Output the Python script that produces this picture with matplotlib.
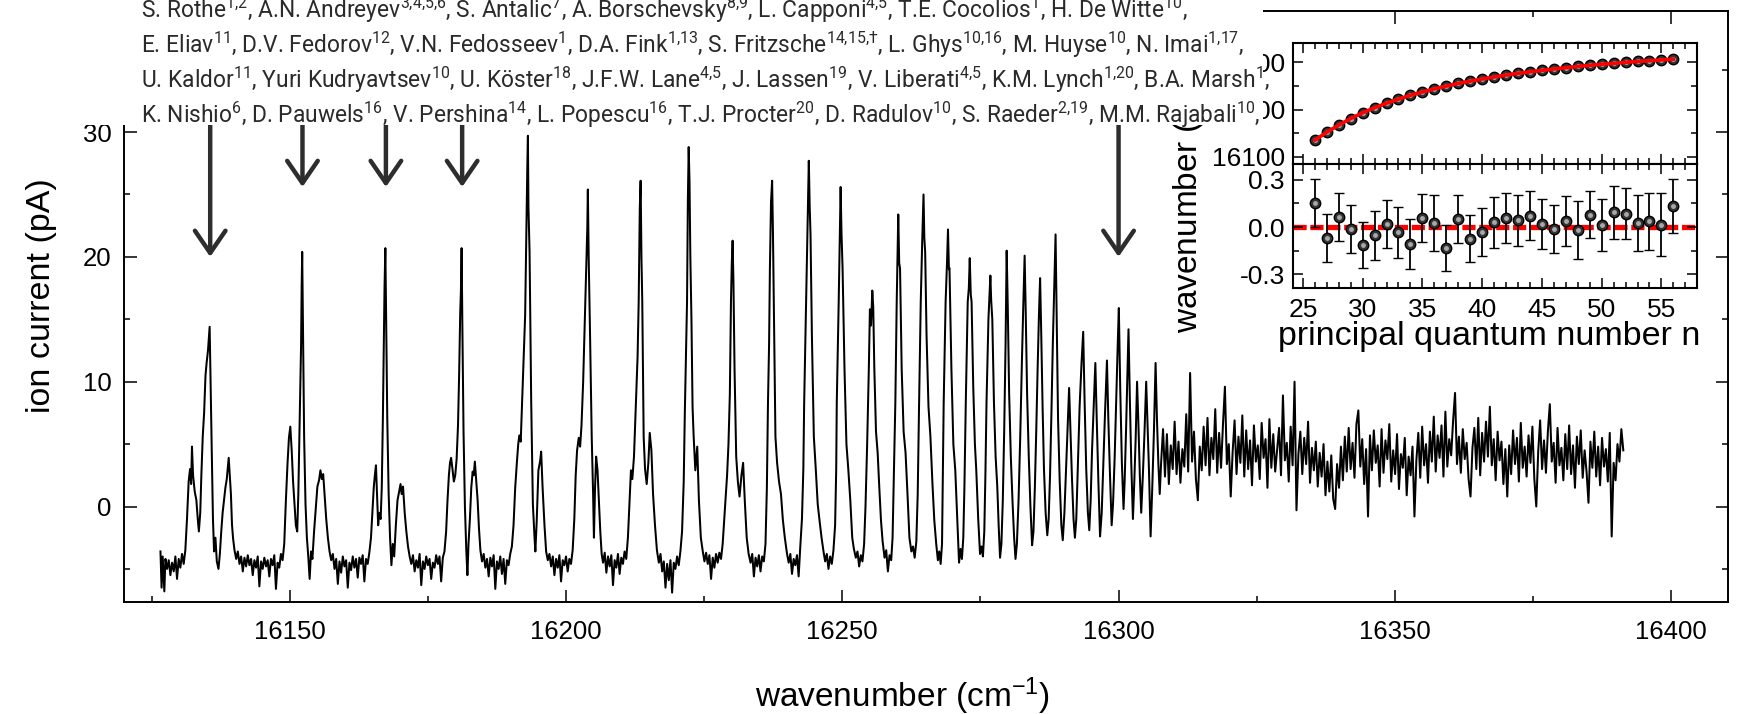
import numpy as np
import matplotlib
matplotlib.use('Agg')
import matplotlib.pyplot as plt
from matplotlib.ticker import MultipleLocator, FormatStrFormatter

plt.rcParams['font.family'] = ['Liberation Sans', 'DejaVu Sans']
plt.rcParams['mathtext.default'] = 'regular'
plt.rcParams['axes.unicode_minus'] = False

# ---- main spectrum: (wavenumber, ion current) ----
scan_points = [
    (16126.6, -3.6), (16126.8, -6.5), (16127.0, -4.0), (16127.3, -6.8), (16127.5, -4.2), (16127.8, -5.0),
    (16128.1, -4.3), (16128.4, -5.5), (16128.7, -4.5), (16129.0, -5.2), (16129.3, -4.0), (16129.6, -5.8),
    (16129.9, -4.2), (16130.2, -4.9), (16130.5, -3.8), (16130.8, -4.6), (16131.1, -3.5),
    # n = 26
    (16131.4, -1.0), (16131.7, 2.0), (16131.95, 3.0), (16132.15, 1.8), (16132.3, 4.8), (16132.5, 2.5),
    (16132.8, 1.2), (16133.1, 0.5), (16133.35, -1.0), (16133.55, -2.0), (16133.8, -0.5), (16134.0, 2.5),
    (16134.25, 5.6), (16134.5, 7.5), (16134.75, 10.5), (16134.95, 11.5), (16135.2, 12.5), (16135.5, 14.4),
    (16135.7, 9.0), (16135.9, 4.0), (16136.1, -1.0), (16136.3, -3.6), (16136.55, -2.5), (16136.8, -4.4),
    (16137.1, -5.0), (16137.35, -3.8), (16137.6, -2.0), (16137.85, -0.5), (16138.1, 0.5), (16138.35, 1.5),
    (16138.6, 2.2), (16138.8, 3.2), (16138.95, 3.9), (16139.15, 2.4), (16139.35, 1.0), (16139.55, -1.5),
    (16139.75, -2.6), (16140.0, -3.5), (16140.3, -4.2),
    (16140.6, -3.6), (16140.9, -4.6), (16141.2, -4.0), (16141.5, -5.2), (16141.8, -4.1), (16142.1, -4.8),
    (16142.4, -3.9), (16142.7, -4.7), (16143.0, -4.2), (16143.3, -5.5), (16143.6, -4.3), (16143.9, -4.9),
    (16144.2, -4.0), (16144.5, -6.4), (16144.8, -4.4), (16145.1, -5.0), (16145.4, -4.1), (16145.7, -4.8),
    (16146.0, -4.3), (16146.3, -5.6), (16146.6, -4.2), (16146.9, -4.7), (16147.2, -3.9), (16147.5, -6.6),
    (16147.8, -4.5), (16148.1, -4.9), (16148.4, -3.8), (16148.7, -4.3),
    # n = 27
    (16149.0, -3.0), (16149.3, 0.5), (16149.6, 3.5), (16149.85, 5.5), (16150.1, 6.4), (16150.35, 4.5),
    (16150.6, 2.0), (16150.85, 0.2), (16151.1, -1.5), (16151.35, -2.0), (16151.55, 1.0), (16151.75, 6.0),
    (16151.9, 9.5), (16152.05, 13.0), (16152.15, 17.5), (16152.25, 20.4), (16152.4, 14.0), (16152.6, 5.6),
    (16152.85, 0.2), (16153.1, -2.5), (16153.35, -4.0), (16153.6, -5.8), (16153.85, -3.6), (16154.1, -4.2),
    (16154.4, -2.0), (16154.7, -0.2), (16155.0, 1.6), (16155.3, 2.1), (16155.55, 2.9), (16155.8, 2.2),
    (16156.05, 2.6), (16156.3, 1.0), (16156.6, -1.0), (16156.9, -2.5), (16157.2, -3.6), (16157.5, -4.3),
    (16157.8, -3.8), (16158.1, -5.0), (16158.4, -4.2), (16158.7, -6.2), (16159.0, -4.4), (16159.3, -5.3),
    (16159.6, -4.0), (16159.9, -4.8), (16160.2, -4.3), (16160.5, -6.5), (16160.8, -4.5), (16161.1, -5.1),
    (16161.4, -4.0), (16161.7, -4.9), (16162.0, -4.2), (16162.3, -5.7), (16162.6, -4.1), (16162.9, -4.6),
    (16163.2, -3.9), (16163.5, -6.0), (16163.8, -4.2), (16164.1, -4.6), (16164.4, -3.7),
    # n = 28
    (16164.7, -2.5), (16164.95, -0.5), (16165.2, 1.5), (16165.4, 2.5), (16165.6, 3.3), (16165.8, 1.0),
    (16166.0, -1.5), (16166.2, -0.5), (16166.45, -1.0), (16166.65, 1.5), (16166.85, 7.0), (16167.0, 12.5),
    (16167.15, 17.5), (16167.3, 20.7), (16167.45, 15.0), (16167.65, 7.0), (16167.9, 1.0), (16168.15, -2.5),
    (16168.4, -4.7), (16168.65, -3.0), (16168.9, -4.0), (16169.2, -1.5), (16169.5, 0.5), (16169.8, 1.2),
    (16170.05, 1.8), (16170.25, 1.0), (16170.5, 1.6), (16170.8, -0.5), (16171.1, -2.0), (16171.4, -3.2),
    (16171.7, -4.0), (16172.0, -4.6),
    (16172.3, -3.9), (16172.6, -5.2), (16172.9, -4.3), (16173.2, -4.9), (16173.5, -3.8), (16173.8, -6.3),
    (16174.1, -4.4), (16174.4, -5.0), (16174.7, -4.0), (16175.0, -4.7), (16175.3, -4.2), (16175.6, -5.8),
    (16175.9, -4.5), (16176.2, -4.9), (16176.5, -3.9), (16176.8, -4.6), (16177.1, -4.0), (16177.4, -6.0),
    (16177.7, -4.1), (16178.0, -3.6),
    # n = 29
    (16178.3, -2.0), (16178.55, 0.5), (16178.8, 2.5), (16179.0, 3.5), (16179.2, 3.9), (16179.45, 3.0),
    (16179.7, 2.0), (16179.95, 2.5), (16180.2, 3.8), (16180.45, 6.5), (16180.65, 10.5), (16180.85, 15.5),
    (16180.97, 17.2), (16181.1, 20.7), (16181.25, 14.0), (16181.45, 6.0), (16181.7, 0.0), (16181.95, -3.5),
    (16182.15, -5.5), (16182.35, -3.0), (16182.6, -1.0), (16182.85, 1.5), (16183.1, 2.8), (16183.3, 2.5),
    (16183.5, 3.6), (16183.75, 2.0), (16184.0, 0.5), (16184.25, -1.8), (16184.5, -3.5), (16184.8, -4.4),
    (16185.1, -3.8), (16185.4, -4.9), (16185.7, -4.2), (16186.0, -5.6), (16186.3, -4.1), (16186.6, -4.8),
    (16186.9, -3.9), (16187.2, -6.6), (16187.5, -4.4), (16187.8, -5.0), (16188.1, -4.0), (16188.4, -5.4),
    (16188.7, -4.2), (16189.0, -6.2), (16189.3, -4.3), (16189.6, -4.7), (16189.9, -3.8), (16190.2, -3.2),
    # n = 30
    (16190.5, -1.5), (16190.8, 1.5), (16191.1, 3.5), (16191.35, 5.0), (16191.55, 5.7), (16191.8, 5.2),
    (16192.05, 8.3), (16192.35, 12.0), (16192.6, 15.3), (16192.85, 22.9), (16193.0, 27.4), (16193.1, 29.7),
    (16193.2, 24.0), (16193.4, 20.4), (16193.7, 8.3), (16194.0, 0.2), (16194.3, -2.5), (16194.45, -3.6),
    (16194.7, -1.1), (16195.0, 2.9), (16195.3, 3.6), (16195.5, 4.4), (16195.75, 1.6), (16196.1, -1.5),
    (16196.4, -3.6), (16196.7, -4.3),
    (16197.0, -3.8), (16197.3, -4.8), (16197.6, -4.0), (16197.9, -5.5), (16198.2, -4.2), (16198.5, -4.9),
    (16198.8, -3.9), (16199.1, -6.0), (16199.4, -4.3), (16199.7, -4.7), (16200.0, -4.0), (16200.3, -5.2),
    (16200.6, -4.2), (16200.9, -4.6), (16201.2, -3.5),
    # n = 31
    (16201.5, -1.0), (16201.75, 2.5), (16202.0, 4.5), (16202.3, 5.5), (16202.55, 4.8), (16202.8, 6.5),
    (16203.1, 10.0), (16203.4, 15.0), (16203.65, 19.0), (16203.85, 22.3), (16203.95, 25.4), (16204.1, 20.0),
    (16204.35, 13.7), (16204.65, 5.6), (16204.9, 1.0), (16205.05, -2.5), (16205.25, 1.5), (16205.45, 4.0),
    (16205.7, 2.9), (16205.95, 0.5), (16206.2, -2.0), (16206.45, -3.8), (16206.7, -4.5),
    (16207.0, -3.7), (16207.3, -5.3), (16207.6, -4.0), (16207.9, -4.8), (16208.2, -3.9), (16208.5, -6.3),
    (16208.8, -4.3), (16209.1, -4.9), (16209.4, -3.8), (16209.7, -5.4), (16210.0, -4.1), (16210.3, -4.6),
    (16210.6, -3.6), (16210.9, -4.2),
    # n = 32
    (16211.2, -2.5), (16211.5, 0.5), (16211.75, 2.9), (16212.0, 2.2), (16212.3, 4.0), (16212.65, 8.3),
    (16212.95, 12.0), (16213.15, 16.4), (16213.35, 23.9), (16213.5, 26.1), (16213.65, 20.0), (16213.8, 16.4),
    (16214.05, 5.6), (16214.3, 3.0), (16214.6, 1.8), (16214.9, 3.5), (16215.15, 5.9), (16215.45, 4.5),
    (16215.75, 1.0), (16216.1, -1.5), (16216.45, -3.5), (16216.8, -4.5),
    (16217.1, -3.8), (16217.4, -5.2), (16217.7, -4.4), (16218.0, -6.5), (16218.3, -4.6), (16218.6, -5.9),
    (16218.9, -4.3), (16219.2, -6.9), (16219.5, -4.5), (16219.8, -5.0), (16220.1, -4.0), (16220.4, -4.7),
    (16220.7, -3.6),
    # n = 33
    (16221.0, -2.0), (16221.3, 2.0), (16221.5, 7.5), (16221.7, 12.0), (16221.9, 16.4), (16222.05, 24.5),
    (16222.2, 28.8), (16222.35, 26.0), (16222.5, 20.0), (16222.7, 15.0), (16222.9, 8.0), (16223.1, 5.6),
    (16223.4, 2.9), (16223.75, 4.8), (16224.05, 0.5), (16224.4, -2.5), (16224.75, -3.6), (16225.05, -4.4),
    (16225.35, -3.7), (16225.65, -4.6), (16225.95, -3.9), (16226.25, -5.8), (16226.55, -4.1), (16226.85, -4.9),
    (16227.15, -3.8), (16227.45, -4.5), (16227.75, -3.7), (16228.05, -4.2), (16228.35, -3.0),
    # n = 34
    (16228.65, -1.0), (16228.9, 0.8), (16229.15, 2.5), (16229.4, 5.0), (16229.65, 9.0), (16229.85, 16.4),
    (16230.0, 19.5), (16230.15, 21.3), (16230.3, 18.0), (16230.5, 11.0), (16230.8, 4.0), (16231.1, 2.0),
    (16231.4, 0.8), (16231.75, 2.5), (16232.05, 3.5), (16232.35, 0.5), (16232.7, -2.5), (16233.05, -3.8),
    (16233.4, -4.5),
    (16233.7, -3.8), (16234.0, -5.6), (16234.3, -4.1), (16234.6, -4.8), (16234.9, -3.9), (16235.2, -5.2),
    (16235.5, -4.0), (16235.8, -4.4), (16236.1, -3.0),
    # n = 35
    (16236.35, 1.5), (16236.55, 8.3), (16236.75, 13.0), (16236.9, 19.1), (16237.1, 24.4), (16237.3, 26.1),
    (16237.45, 22.0), (16237.6, 16.4), (16237.9, 5.6), (16238.2, 3.5), (16238.55, 2.0), (16238.9, 1.0),
    (16239.25, -1.1), (16239.6, -2.5), (16240.0, -3.8),
    (16240.3, -4.5), (16240.6, -3.8), (16240.9, -5.4), (16241.2, -4.2), (16241.5, -4.7), (16241.8, -3.9),
    (16242.1, -5.6), (16242.4, -3.2),
    # n = 36
    (16242.7, -1.0), (16242.95, 3.0), (16243.1, 8.3), (16243.45, 16.4), (16243.7, 22.0), (16243.8, 24.5),
    (16243.94, 27.7), (16244.1, 24.0), (16244.25, 21.8), (16244.5, 13.7), (16244.85, 5.6), (16245.2, 3.0),
    (16245.55, 0.2), (16245.9, -1.2), (16246.25, -2.5), (16246.6, -3.6),
    (16246.9, -4.4), (16247.2, -3.8), (16247.5, -5.0), (16247.8, -4.0), (16248.1, -4.6), (16248.4, -3.5),
    # n = 37
    (16248.7, -1.5), (16248.9, 3.0), (16249.0, 8.3), (16249.35, 16.4), (16249.55, 21.5), (16249.7, 25.6),
    (16249.85, 22.0), (16250.05, 19.1), (16250.4, 11.0), (16250.75, 5.0), (16251.1, 2.9), (16251.45, 0.5),
    (16251.8, -2.5), (16252.1, -3.4), (16252.45, -4.1),
    (16252.75, -3.6), (16253.05, -4.8), (16253.35, -3.9), (16253.65, -4.4), (16253.95, -3.0),
    # n = 38
    (16254.2, 0.0), (16254.5, 5.0), (16254.8, 11.0), (16255.0, 15.8), (16255.2, 14.5), (16255.43, 17.3),
    (16255.6, 16.0), (16255.8, 11.0), (16256.1, 6.0), (16256.4, 4.3), (16256.7, 1.5), (16257.0, -1.1),
    (16257.3, -2.8), (16257.65, -4.1),
    (16257.95, -3.5), (16258.25, -5.2), (16258.55, -3.9), (16258.85, -4.3), (16259.1, -2.5),
    # n = 39
    (16259.35, 3.0), (16259.6, 8.3), (16259.85, 16.4), (16260.13, 23.4), (16260.3, 19.5), (16260.45, 19.1),
    (16260.75, 11.0), (16261.1, 6.0), (16261.45, 4.3), (16261.8, 1.0), (16262.15, -2.5), (16262.5, -3.6),
    (16262.8, -3.2), (16263.1, -4.1), (16263.4, -2.8),
    # n = 40
    (16263.65, 1.0), (16263.9, 8.3), (16264.2, 16.4), (16264.45, 21.0), (16264.7, 25.0), (16264.85, 21.5),
    (16265.0, 20.4), (16265.25, 13.7), (16265.6, 8.0), (16265.95, 5.6), (16266.3, 2.0), (16266.65, -1.1),
    (16267.0, -3.0), (16267.3, -4.3),
    (16267.55, -3.6), (16267.8, -4.6), (16268.05, -3.0),
    # n = 41
    (16268.35, 8.3), (16268.7, 16.4), (16268.95, 19.5), (16269.13, 22.2), (16269.3, 19.0), (16269.4, 19.1),
    (16269.75, 11.0), (16270.1, 5.0), (16270.45, 2.9), (16270.8, -0.8), (16271.13, -4.5),
    (16271.4, -3.4), (16271.65, -4.2), (16271.9, -2.5),
    # n = 42
    (16272.1, 1.5), (16272.35, 8.3), (16272.7, 16.4), (16272.9, 17.5), (16273.07, 19.9), (16273.25, 17.0),
    (16273.4, 16.4), (16273.7, 9.6), (16274.0, 5.0), (16274.25, 2.9), (16274.6, -1.0), (16274.93, -3.8),
    (16275.2, -3.2), (16275.45, -4.0), (16275.7, -2.0),
    # n = 43 .. 47
    (16275.9, 2.5), (16276.1, 8.3), (16276.45, 15.0), (16276.8, 18.5), (16276.95, 16.5), (16277.15, 15.0),
    (16277.45, 8.3), (16277.75, 4.0), (16278.05, 1.6), (16278.3, -1.5), (16278.55, -4.1),
    (16278.8, -3.0), (16279.05, 0.5), (16279.3, 6.0), (16279.55, 13.0), (16279.75, 20.5), (16279.95, 16.0),
    (16280.2, 9.0), (16280.5, 4.0), (16280.8, 0.5), (16281.1, -2.5), (16281.35, -4.2),
    (16281.6, -3.0), (16281.9, 0.5), (16282.2, 5.5), (16282.5, 11.5), (16282.75, 16.0), (16283.0, 20.1),
    (16283.2, 15.5), (16283.45, 9.0), (16283.75, 4.0), (16284.05, 0.0), (16284.35, -3.1),
    (16284.6, -2.0), (16284.85, 1.5), (16285.1, 6.0), (16285.35, 11.0), (16285.6, 15.5), (16285.8, 18.3),
    (16286.0, 14.0), (16286.25, 8.0), (16286.5, 3.0), (16286.8, -0.5), (16287.1, -2.3),
    (16287.35, -1.0), (16287.6, 2.5), (16287.85, 7.5), (16288.1, 13.0), (16288.35, 17.5), (16288.6, 21.8),
    (16288.8, 15.0), (16289.05, 7.0), (16289.35, 2.0), (16289.65, -1.5),
    # n = 48 .. 56
    (16289.9, -2.7), (16290.2, -0.5), (16290.5, 3.0), (16290.8, 6.5), (16291.05, 9.5), (16291.3, 6.0),
    (16291.55, 2.5), (16291.85, -1.0), (16292.1, -2.5),
    (16292.35, -1.0), (16292.65, 3.5), (16292.95, 8.0), (16293.3, 11.5), (16293.6, 14.0), (16293.85, 8.5),
    (16294.15, 3.0), (16294.45, -0.5), (16294.7, -1.9),
    (16294.95, 0.5), (16295.2, 4.5), (16295.5, 8.0), (16295.8, 11.5), (16296.05, 7.0), (16296.35, 2.0),
    (16296.65, -2.4),
    (16296.95, -0.5), (16297.25, 3.5), (16297.55, 7.5), (16297.9, 11.7), (16298.15, 7.0), (16298.45, 2.5),
    (16298.75, -1.5),
    (16299.0, 0.2), (16299.3, 4.0), (16299.6, 9.0), (16299.85, 13.0), (16300.05, 15.9), (16300.3, 9.5),
    (16300.6, 3.5), (16300.9, -0.2),
    (16301.1, 2.0), (16301.35, 6.0), (16301.6, 10.5), (16301.8, 14.2), (16302.05, 8.5), (16302.3, 3.5),
    (16302.6, -1.0),
    (16302.85, 2.0), (16303.1, 5.5), (16303.35, 10.0), (16303.6, 6.5), (16303.85, 2.5), (16304.1, -0.5),
    (16304.4, 2.5), (16304.7, 6.0), (16305.0, 10.0), (16305.25, 6.5), (16305.5, 3.0), (16305.8, -2.4),
    (16306.1, 1.5), (16306.4, 6.0), (16306.7, 11.5), (16306.95, 7.0), (16307.2, 3.5), (16307.45, 1.0),
]

# noisy continuum above the series limit, sampled every 0.35 cm-1 from 16307.7
band_start = 16307.7
band_step = 0.35
band_y = [
    3.5, 6.2, 2.4, 5.8, 1.8, 4.9, 3.0, 6.8, 2.6, 5.2,
    1.9, 4.6, 3.2, 7.4, 2.8, 10.7, 3.6, 6.0, 2.2, 0.5,
    4.8, 2.9, 6.4, 3.3, 7.1, 2.5, 5.5, 3.8, 7.8, 2.7,
    5.9, 3.1, 6.6, 9.6, 3.4, 5.0, 0.8, 4.4, 6.9, 2.6,
    5.6, 3.5, 7.3, 2.4, 6.1, 3.0, 5.3, 1.7, 6.5, 3.6,
    4.9, 2.2, 6.7, 3.9, 5.4, 1.5, 7.0, 3.1, 5.8, 2.8,
    4.6, 6.3, 2.5, 8.9, 3.7, 5.1, 2.0, 6.4, 3.3, 10.0,
    -0.3, 4.2, 6.0, 2.6, 5.5, 3.4, 6.8, 1.9, 4.7, 2.9,
    5.2, 1.6, 4.3, 2.4, 5.0, 0.9, 3.6, 1.2, 4.1, 0.6,
    -0.2, 3.4, 1.5, 4.8, 2.1, 5.6, 2.8, 6.3, 3.0, 5.1,
    2.3, 6.6, 7.7, 3.2, 5.4, 1.8, 4.6, -0.8, 5.7, 2.9,
    6.1, 3.5, 4.9, 1.6, 6.2, 2.7, 5.3, 3.8, 6.6, 2.0,
    4.5, 2.6, 5.8, 1.4, 4.2, 3.1, 5.5, 0.9, 4.0, 2.5,
    4.8, -0.8, 3.7, 5.9, 2.3, 6.4, 3.3, 5.0, 1.9, 6.0,
    3.6, 7.2, 2.8, 5.7, 3.9, 6.5, 2.4, 7.6, 3.2, 5.4,
    4.1, 6.9, 9.1, 3.4, 5.6, 2.7, 6.2, 3.8, 5.1, 2.2,
    0.8, 4.7, 6.3, 3.0, 7.1, 2.5, 5.9, 3.6, 6.8, 4.0,
    8.0, 3.3, 5.4, 2.1, 6.0, 3.7, 5.2, 1.8, 4.6, 0.8,
    4.9, 2.6, 6.1, 3.4, 5.5, 2.0, 6.7, 3.1, 4.8, 2.4,
    5.7, 3.5, 6.4, 2.2, 0.0, 4.4, 6.9, 3.0, 5.3, 2.7,
    6.0, 8.2, 3.6, 5.1, 1.9, 6.3, 3.3, 4.7, 2.1, 5.8,
    3.0, 6.5, 2.6, 4.9, 1.5, 5.6, 3.4, 6.1, 2.3, 4.5,
    2.8, 0.3, 5.2, 3.1, 6.0, 2.4, 4.8, 1.7, 5.5, 3.2,
    4.6, 2.0, 5.9, -2.4, 3.5, 2.1, 5.0, 3.6, 6.2, 4.5,
]

# arrows marking selected resonances
arrow_x = [16135.6, 16152.3, 16167.4, 16181.2, 16300.0]
arrow_tip = [20.0, 25.6, 25.6, 25.6, 20.0]

# ---- inset: Rydberg series ----
n_levels = list(range(26, 57))
level_wn = [16135.5, 16152.2, 16167.3, 16181.1, 16193.1, 16203.9, 16213.5, 16222.2, 16230.2, 16237.3,
            16243.9, 16249.7, 16255.4, 16260.1, 16264.7, 16269.1, 16273.1, 16276.8, 16279.9, 16283.0,
            16285.8, 16288.6, 16291.2, 16293.6, 16295.8, 16297.9, 16300.0, 16301.8, 16303.5, 16305.2,
            16306.8]
resid = [0.153, -0.070, 0.064, -0.013, -0.113, -0.053, 0.019, -0.034, -0.107, 0.057,
         0.026, -0.134, 0.051, -0.075, -0.032, 0.030, 0.057, 0.042, 0.072, 0.021,
         -0.013, 0.040, -0.017, 0.079, 0.015, 0.093, 0.085, 0.026, 0.036, 0.015,
         0.132]
resid_err = [0.15, 0.15, 0.15, 0.15, 0.145, 0.155, 0.15, 0.16, 0.16, 0.15,
             0.175, 0.145, 0.15, 0.15, 0.155, 0.16, 0.16, 0.16, 0.155, 0.16,
             0.15, 0.16, 0.185, 0.15, 0.165, 0.17, 0.16, 0.175, 0.18, 0.2,
             0.17]

author_lines = [
    "S. Rothe$^{1{,}2}$, A.N. Andreyev$^{3{,}4{,}5{,}6}$, S. Antalic$^{7}$, A. Borschevsky$^{8{,}9}$, L. Capponi$^{4{,}5}$, T.E. Cocolios$^{1}$, H. De Witte$^{10}$,",
    "E. Eliav$^{11}$, D.V. Fedorov$^{12}$, V.N. Fedosseev$^{1}$, D.A. Fink$^{1{,}13}$, S. Fritzsche$^{14{,}15{,}†}$, L. Ghys$^{10{,}16}$, M. Huyse$^{10}$, N. Imai$^{1{,}17}$,",
    "U. Kaldor$^{11}$, Yuri Kudryavtsev$^{10}$, U. Köster$^{18}$, J.F.W. Lane$^{4{,}5}$, J. Lassen$^{19}$, V. Liberati$^{4{,}5}$, K.M. Lynch$^{1{,}20}$, B.A. Marsh$^{1}$,",
    "K. Nishio$^{6}$, D. Pauwels$^{16}$, V. Pershina$^{14}$, L. Popescu$^{16}$, T.J. Procter$^{20}$, D. Radulov$^{10}$, S. Raeder$^{2{,}19}$, M.M. Rajabali$^{10}$,",
]

W, H = 1738, 714


def box(x0, y0, x1, y1):
    # pixel box measured from the top-left corner -> figure fraction
    return [x0 / W, 1 - y1 / H, (x1 - x0) / W, (y1 - y0) / H]


fig = plt.figure(figsize=(W / 100, H / 100), dpi=100)

# main spectrum
ax = fig.add_axes(box(124, 11, 1728, 602), zorder=1)
scan_x = [p[0] for p in scan_points]
scan_y = [p[1] for p in scan_points]
band_x = band_start + band_step * np.arange(len(band_y))
ax.plot(scan_x + list(band_x), scan_y + band_y, color='k', lw=1.45)

for xa, ya in zip(arrow_x, arrow_tip):
    ax.annotate('', xy=(xa, ya), xytext=(xa, 34),
                arrowprops=dict(arrowstyle='->,head_length=0.8,head_width=0.55',
                                lw=3.2, color='#2d2d2d', shrinkA=0, shrinkB=0,
                                mutation_scale=20))

ax.set_xlim(16120, 16410.3)
ax.set_ylim(-7.65, 39.7)
ax.xaxis.set_major_locator(MultipleLocator(50))
ax.xaxis.set_minor_locator(MultipleLocator(25))
ax.yaxis.set_major_locator(MultipleLocator(10))
ax.yaxis.set_minor_locator(MultipleLocator(5))
ax.ticklabel_format(useOffset=False)
ax.tick_params(which='both', direction='in', top=True, right=True, width=1.1, colors='k')
ax.tick_params(which='major', length=9, labelsize=18.5)
ax.tick_params(axis='x', which='major', pad=13)
ax.tick_params(axis='y', which='major', pad=9)
ax.tick_params(which='minor', length=4.5)
for s in ax.spines.values():
    s.set_linewidth(1.4)

fig.text(42 / W, 1 - 296 / H, 'ion current (pA)', rotation=90, ha='center', va='center', fontsize=24.5)
fig.text(902 / W, 1 - 696 / H, 'wavenumber (cm$^{-1}$)', ha='center', va='center', fontsize=24)

# inset, upper panel: level energies with fit
ax_up = fig.add_axes(box(1293.3, 42.7, 1697.3, 164), zorder=3)
ax_lo = fig.add_axes(box(1293.3, 164, 1697.3, 288), zorder=3)

fit_wn = [e - r for e, r in zip(level_wn, resid)]
ax_up.plot(n_levels, level_wn, 'o', ms=7.5, mfc='#333333', mec='k', mew=1, zorder=2)
ax_up.plot(n_levels, level_wn, 'o', ms=2.5, color='#a8a8a8', zorder=2)
ax_up.plot(n_levels, fit_wn, color='red', lw=2.6, zorder=3)
ax_up.set_ylim(16085, 16341.5)
ax_up.yaxis.set_major_locator(MultipleLocator(100))
ax_up.yaxis.set_minor_locator(MultipleLocator(50))
ax_up.ticklabel_format(useOffset=False)

ax_lo.axhline(0, color='red', lw=3.8, ls=(0, (2.5, 0.7)), zorder=1)
ax_lo.errorbar(n_levels, resid, yerr=resid_err, fmt='o', ms=7.5, mfc='#333333', mec='k', mew=1,
               ecolor='k', elinewidth=1.3, capsize=3.8, capthick=1.3, zorder=2)
ax_lo.plot(n_levels, resid, 'o', ms=2.5, color='#a8a8a8', zorder=3)
ax_lo.set_ylim(-0.387, 0.40)
ax_lo.yaxis.set_major_locator(MultipleLocator(0.3))
ax_lo.yaxis.set_minor_locator(MultipleLocator(0.15))
ax_lo.yaxis.set_major_formatter(FormatStrFormatter('%.1f'))

for a in (ax_up, ax_lo):
    a.set_xlim(24.2, 58)
    a.xaxis.set_major_locator(MultipleLocator(5))
    a.xaxis.set_minor_locator(MultipleLocator(1))
    a.tick_params(which='both', direction='in', top=True, right=True, width=1.1)
    a.tick_params(which='major', length=7, labelsize=19, pad=6)
    a.tick_params(which='minor', length=4.5)
    for s in a.spines.values():
        s.set_linewidth(1.5)
ax_up.tick_params(labelbottom=False)
ax_lo.tick_params(axis='x', which='major', pad=7)

fig.text(1187 / W, 1 - 333 / H, 'wavenumber (cm$^{-1}$)', rotation=90, ha='center', va='bottom',
         fontsize=24, zorder=4)
fig.text(1489 / W, 1 - 337 / H, 'principal quantum number n', ha='center', va='center',
         fontsize=24.5, zorder=4)

# author block pasted over the top-left of the figure
ax_txt = fig.add_axes(box(0, 0, 1263, 125), zorder=5)
ax_txt.set_xlim(0, 1263)
ax_txt.set_ylim(125, 0)
ax_txt.set_xticks([])
ax_txt.set_yticks([])
for s in ax_txt.spines.values():
    s.set_visible(False)

baselines = [18, 53, 88, 123]
line_ends = [1223, 1247, 1252, 1250]
texts = []
for line, yb in zip(author_lines, baselines):
    texts.append(ax_txt.text(141, yb, line, ha='left', va='baseline', fontsize=15,
                             family=['Roboto', 'DejaVu Sans'], color='#2a2a2a'))

fig.canvas.draw()
renderer = fig.canvas.get_renderer()
ratios = [(end - 141) / t.get_window_extent(renderer).width for t, end in zip(texts, line_ends)]
for t in texts:
    t.set_fontsize(15 * np.mean(ratios))

fig.savefig('out.png', dpi=100)
